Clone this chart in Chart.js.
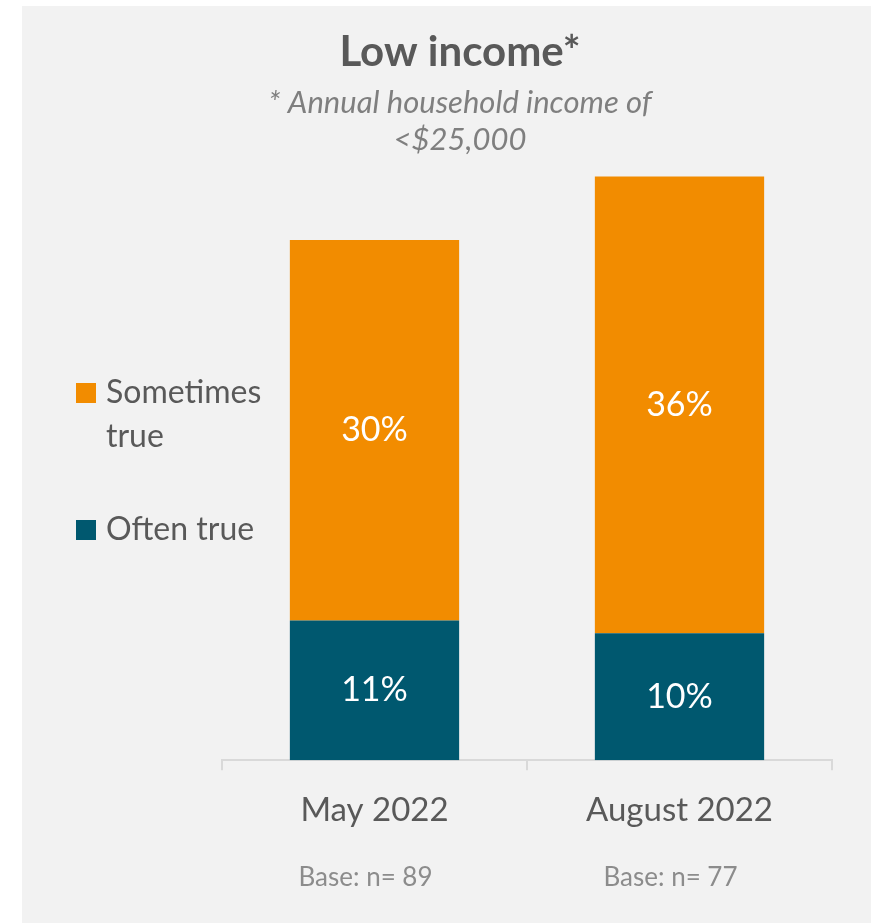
<!DOCTYPE html>
<html>
<head>
<meta charset="utf-8">
<script src="https://cdn.jsdelivr.net/npm/chart.js@4.4.0/dist/chart.umd.min.js"></script>
<style>
  body { margin: 0; background: #fff; }
  #panel { position: absolute; left: 22px; top: 6px; width: 849px; height: 917px; background: #f2f2f2; }
</style>
</head>
<body>
<div id="panel"><canvas id="chart" width="849" height="917"></canvas></div>
<script>
var categories = ['May 2022', 'August 2022'];
var baseLabels = ['Base: n= 89', 'Base: n= 77'];
var oftenTrue = [11, 10];
var sometimesTrue = [30, 36];

var FONT = "'Source Sans Pro', Lato, sans-serif";

// white percentages in the middle of each segment
var segmentLabels = {
  id: 'segmentLabels',
  afterDatasetsDraw: function(chart) {
    var ctx = chart.ctx;
    ctx.save();
    ctx.fillStyle = '#ffffff';
    ctx.font = '34px ' + FONT;
    ctx.textAlign = 'center';
    ctx.textBaseline = 'middle';
    chart.data.datasets.forEach(function(ds, i) {
      chart.getDatasetMeta(i).data.forEach(function(bar, j) {
        ctx.fillText(ds.data[j] + '%', bar.x, (bar.y + bar.base) / 2);
      });
    });
    ctx.restore();
  }
};

// legend on the left, with wrapped labels, top item first
var sideLegend = {
  id: 'sideLegend',
  afterDraw: function(chart) {
    var ctx = chart.ctx;
    var x = 54, y = 387, box = 20, lineH = 44, maxW = 190;
    ctx.save();
    ctx.font = '32px ' + FONT;
    ctx.textBaseline = 'middle';
    ctx.textAlign = 'left';
    chart.data.datasets.slice().reverse().forEach(function(ds) {
      var words = ds.label.split(' '), lines = [], cur = '';
      words.forEach(function(w) {
        var t = cur ? cur + ' ' + w : w;
        if (cur && ctx.measureText(t).width > maxW) { lines.push(cur); cur = w; } else { cur = t; }
      });
      lines.push(cur);
      ctx.fillStyle = ds.backgroundColor;
      ctx.fillRect(x, y - box / 2, box, box);
      ctx.fillStyle = '#595959';
      lines.forEach(function(l, k) { ctx.fillText(l, x + 30, y + k * lineH); });
      y += lines.length * lineH + 49;
    });
    ctx.restore();
  }
};

new Chart(document.getElementById('chart'), {
  type: 'bar',
  data: {
    labels: categories,
    datasets: [
      { label: 'Often true', data: oftenTrue, backgroundColor: '#00586f', barPercentage: 0.555, categoryPercentage: 1 },
      { label: 'Sometimes true', data: sometimesTrue, backgroundColor: '#f28c00', barPercentage: 0.555, categoryPercentage: 1 }
    ]
  },
  options: {
    responsive: false,
    animation: false,
    layout: { padding: { left: 66, right: 39, bottom: 18 } },
    plugins: {
      legend: { display: false },
      tooltip: { enabled: false },
      title: {
        display: true,
        text: 'Low income*',
        color: '#595959',
        font: { family: FONT, size: 42, weight: 'bold', lineHeight: 1.2 },
        padding: { top: 21, bottom: 7 }
      },
      subtitle: {
        display: true,
        text: ['* Annual household income of', '<$25,000'],
        color: '#7f7f7f',
        font: { family: FONT, size: 31, style: 'italic', lineHeight: 1.2 },
        padding: { top: 0, bottom: 5 }
      }
    },
    scales: {
      x: {
        stacked: true,
        grid: { display: true, drawOnChartArea: false, tickLength: 10, color: '#d9d9d9', lineWidth: 2 },
        border: { color: '#d9d9d9', width: 2 },
        ticks: { color: '#595959', font: { family: FONT, size: 33, lineHeight: 1.2 }, padding: 20 }
      },
      x2: {
        type: 'category',
        labels: baseLabels,
        position: 'bottom',
        offset: true,
        grid: { display: false, drawTicks: false },
        border: { display: false },
        ticks: { color: '#8c8c8c', font: { family: FONT, size: 26, lineHeight: 1.2 }, padding: 12, labelOffset: -9 }
      },
      y: {
        stacked: true,
        min: 0,
        max: 47,
        grid: { display: false },
        border: { display: false },
        ticks: { display: false },
        // room for the legend drawn beside the bars
        afterFit: function(scale) { scale.width = 134; }
      }
    }
  },
  plugins: [segmentLabels, sideLegend]
});
</script>
</body>
</html>
